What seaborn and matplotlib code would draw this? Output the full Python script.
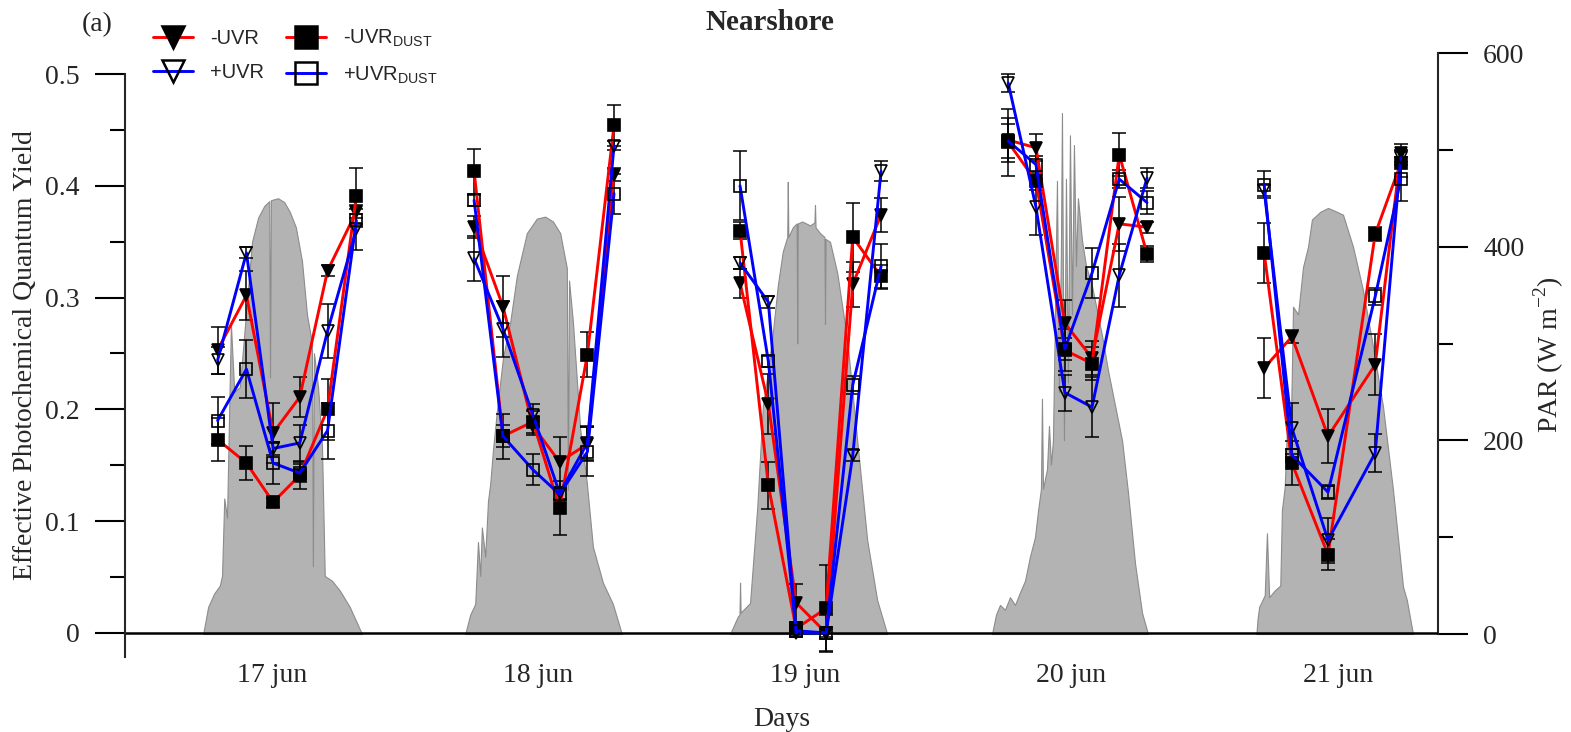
import matplotlib
matplotlib.use("Agg")
import matplotlib.pyplot as plt
from matplotlib.lines import Line2D
from matplotlib.ticker import MultipleLocator
import seaborn as sns
import numpy as np
import pandas as pd

#%% Data
day_ticks = [17.5, 18.5, 19.5, 20.5, 21.5]
day_labels = ["17 jun", "18 jun", "19 jun", "20 jun", "21 jun"]

# sampling day and hour of each measurement
sample_day = [17] * 6 + [18] * 6 + [19] * 6 + [20] * 6 + [21] * 5
sample_hour = [7.1, 9.7, 12.1, 14.5, 17.0, 19.6,
               6.2, 8.8, 11.5, 13.9, 16.4, 18.8,
               6.15, 8.7, 11.2, 13.9, 16.3, 18.85,
               6.3, 8.8, 11.4, 13.85, 16.3, 18.8,
               5.35, 7.85, 11.1, 15.35, 17.65]

# Effective photochemical quantum yield (mean and error)
minus_uvr = [0.253, 0.302, 0.179, 0.211, 0.324, 0.377,
             0.363, 0.292, 0.185, 0.153, 0.169, 0.410,
             0.313, 0.205, 0.027, 0.000, 0.312, 0.374,
             0.441, 0.434, 0.277, 0.246, 0.366, 0.363,
             0.237, 0.265, 0.176, 0.240, 0.429]
minus_uvr_err = [0.021, 0.022, 0.027, 0.018, 0.005, 0.006,
                 0.010, 0.027, 0.008, 0.022, 0.015, 0.006,
                 0.013, 0.027, 0.017, 0.005, 0.020, 0.015,
                 0.020, 0.012, 0.021, 0.015, 0.024, 0.005,
                 0.027, 0.006, 0.024, 0.027, 0.008]
plus_uvr = [0.244, 0.340, 0.165, 0.170, 0.270, 0.361,
            0.335, 0.272, 0.195, 0.125, 0.170, 0.436,
            0.331, 0.296, 0.000, 0.000, 0.159, 0.413,
            0.492, 0.381, 0.215, 0.202, 0.320, 0.407,
            0.396, 0.183, 0.083, 0.161, 0.425]
plus_uvr_err = [0.012, 0.005, 0.006, 0.016, 0.024, 0.018,
                0.020, 0.025, 0.010, 0.005, 0.015, 0.004,
                0.005, 0.005, 0.004, 0.004, 0.005, 0.009,
                0.008, 0.025, 0.016, 0.027, 0.028, 0.009,
                0.005, 0.023, 0.020, 0.017, 0.006]
minus_dust = [0.173, 0.152, 0.117, 0.141, 0.200, 0.391,
              0.413, 0.176, 0.189, 0.112, 0.249, 0.454,
              0.360, 0.132, 0.004, 0.022, 0.354, 0.319,
              0.439, 0.404, 0.253, 0.241, 0.428, 0.339,
              0.340, 0.152, 0.070, 0.357, 0.420]
minus_dust_err = [0.019, 0.015, 0.004, 0.012, 0.027, 0.025,
                  0.020, 0.020, 0.010, 0.024, 0.020, 0.018,
                  0.008, 0.021, 0.005, 0.039, 0.031, 0.010,
                  0.030, 0.008, 0.019, 0.015, 0.019, 0.007,
                  0.027, 0.020, 0.014, 0.006, 0.012]
plus_dust = [0.190, 0.236, 0.152, 0.143, 0.181, 0.369,
             0.387, 0.176, 0.146, 0.124, 0.162, 0.393,
             0.400, 0.243, 0.002, 0.000, 0.222, 0.328,
             0.440, 0.419, 0.254, 0.322, 0.406, 0.385,
             0.401, 0.159, 0.126, 0.301, 0.406]
plus_dust_err = [0.021, 0.026, 0.019, 0.008, 0.025, 0.006,
                 0.005, 0.010, 0.014, 0.005, 0.022, 0.018,
                 0.031, 0.005, 0.005, 0.016, 0.008, 0.020,
                 0.015, 0.008, 0.010, 0.022, 0.008, 0.010,
                 0.012, 0.006, 0.006, 0.008, 0.020]

# PAR (W m-2) per day, hour of day vs value
par_hour_17 = [5.8, 6.25, 6.8, 7.3, 7.5, 7.7, 7.95, 8.3, 8.6, 9.1, 9.65, 10.2, 10.75, 11.3, 11.75,
               11.82, 11.9, 12.55, 13.1, 13.6, 14.15, 14.7, 15.15, 15.6, 15.68, 15.78, 16.15,
               16.5, 16.75, 17.4, 18.1, 19.0, 19.55, 20.1]
par_w_17 = [0, 28, 42, 50, 60, 140, 120, 320, 250, 255, 330, 405, 430, 442, 447,
            265, 448, 450, 446, 436, 420, 385, 330, 300, 70, 290, 255,
            195, 60, 55, 45, 28, 14, 0]
par_hour_18 = [5.4, 5.85, 6.3, 6.55, 6.75, 6.9, 7.2, 7.45, 7.65, 7.9, 8.25, 8.8, 9.45, 10.05,
               10.95, 11.85, 12.6, 13.3, 13.95, 14.55, 14.65, 14.75, 15.1, 15.75, 16.35, 16.9,
               17.8, 18.7, 19.5]
par_w_18 = [0, 20, 31, 95, 60, 110, 80, 137, 155, 190, 230, 285, 322, 370,
            414, 429, 431, 426, 414, 378, 149, 365, 322, 212, 156, 90,
            53, 31, 0]
par_hour_19 = [5.25, 5.95, 6.1, 6.15, 6.2, 7.05, 7.7, 8.2, 8.65, 9.1, 9.55, 10.0, 10.4,
               10.45, 10.5, 10.9, 11.25, 11.3, 11.35, 11.75, 12.45, 12.85, 12.9, 12.95,
               13.35, 13.75, 13.8, 13.85, 14.25, 14.9, 15.8, 16.7, 17.6, 18.5, 19.4]
par_w_19 = [0, 18, 20, 53, 22, 32, 131, 235, 270, 311, 360, 395, 410,
            467, 410, 420, 424, 300, 424, 426, 422, 425, 443, 420,
            414, 410, 320, 408, 405, 373, 304, 200, 97, 35, 0]
par_hour_20 = [4.84, 5.2, 5.56, 6.01, 6.46, 6.91, 7.36, 7.81, 8.26, 8.71, 8.98, 9.25, 9.34,
               9.43, 9.79, 9.97, 10.15, 10.33, 10.51, 10.69, 10.87, 11.05, 11.14, 11.32,
               11.5, 11.68, 11.86, 12.04, 12.22, 12.4, 12.58, 12.95, 13.31, 13.85, 14.75,
               15.29, 15.92, 16.55, 17.09, 17.72, 18.35, 18.89]
par_w_20 = [0, 20, 30, 25, 38, 30, 43, 55, 80, 100, 127, 150, 243,
            150, 170, 215, 175, 200, 330, 468, 250, 400, 538, 200,
            470, 260, 515, 330, 505, 380, 450, 406, 380, 359, 308,
            272, 236, 200, 146, 73, 22, 0]
par_hour_21 = [4.65, 4.75, 4.9, 5.4, 5.6, 5.8, 6.3, 6.8, 6.95, 7.2, 7.4, 7.7, 7.95, 8.4,
               8.85, 9.3, 9.65, 10.4, 11.1, 11.9, 12.45, 13.35, 14.25, 15.15, 16.05, 16.95,
               17.85, 18.2, 18.75]
par_w_21 = [0, 15, 28, 40, 104, 38, 45, 50, 128, 152, 211, 180, 338, 330,
            379, 400, 428, 436, 440, 436, 433, 400, 355, 297, 235, 149,
            49, 35, 0]

#%% Style
sns.set_style("ticks")
plt.rcParams["font.family"] = ["Liberation Serif", "DejaVu Serif"]
plt.rcParams["axes.linewidth"] = 1.5

W, H = 1571, 732
fig = plt.figure(figsize=(W / 100, H / 100), dpi=100)
ax = fig.add_axes([125 / W, 1 - 657 / H, (1438 - 125) / W, (657 - 53) / H])
ax2 = ax.twinx()

# PAR in the background
par_days = {17: (par_hour_17, par_w_17), 18: (par_hour_18, par_w_18),
            19: (par_hour_19, par_w_19), 20: (par_hour_20, par_w_20),
            21: (par_hour_21, par_w_21)}
for day, (hrs, w) in par_days.items():
    x = day + np.array(hrs) / 24
    ax2.fill_between(x, 0, w, facecolor="#b3b3b3", edgecolor="#8c8c8c", lw=0.8)

ax.set_zorder(ax2.get_zorder() + 1)
ax.patch.set_visible(False)

obs = pd.DataFrame({"day": sample_day, "hour": sample_hour})
obs["x"] = obs["day"] + obs["hour"] / 24

series = [
    ("-UVR", minus_uvr, minus_uvr_err, "red", "v", "black"),
    ("-UVR$_{\\mathregular{DUST}}$", minus_dust, minus_dust_err, "red", "s", "black"),
    ("+UVR", plus_uvr, plus_uvr_err, "blue", "v", "none"),
    ("+UVR$_{\\mathregular{DUST}}$", plus_dust, plus_dust_err, "blue", "s", "none"),
]

ax.axhline(0, color="black", lw=1.8, zorder=1)

for name, vals, errs, color, marker, face in series:
    ax.errorbar(obs["x"], vals, yerr=errs, fmt="none", ecolor="black",
                elinewidth=1.1, capsize=5, capthick=1.1, zorder=2)

for name, vals, errs, color, marker, face in series:
    d = obs.assign(y=vals)
    sns.lineplot(data=d, x="x", y="y", units="day", estimator=None, ax=ax,
                 color=color, lw=2.1, marker=marker, markersize=8,
                 markerfacecolor=face, mec="black", mew=1.2,
                 legend=False, zorder=3)

# Axes limits
ax.set_xlim(16.9484, 21.8752)
ax.set_ylim(-0.0215, 0.5188)
ax2.set_ylim(-23.75, 600)

for s in ["top", "right", "bottom"]:
    ax.spines[s].set_visible(False)
for s in ["top", "left", "bottom"]:
    ax2.spines[s].set_visible(False)
ax.spines["left"].set_bounds(-0.0215, 0.5)
ax.spines["left"].set_linewidth(1.5)
ax2.spines["right"].set_bounds(0, 600)
ax2.spines["right"].set_linewidth(1.5)

yt = [0, 0.1, 0.2, 0.3, 0.4, 0.5]
ax.set_yticks(yt, ["0", "0.1", "0.2", "0.3", "0.4", "0.5"])
ax.yaxis.set_minor_locator(MultipleLocator(0.05))
ax.tick_params(axis="y", which="major", length=21.5, width=1.5, pad=11, labelsize=20,
               direction="out", color="black")
ax.tick_params(axis="y", which="minor", length=11, width=1.5, direction="out", color="black")

ax2.set_yticks([0, 200, 400, 600])
ax2.yaxis.set_minor_locator(MultipleLocator(100))
ax2.tick_params(axis="y", which="major", length=21.5, width=1.5, pad=11, labelsize=20,
                direction="out", color="black")
ax2.tick_params(axis="y", which="minor", length=11, width=1.5, direction="out", color="black")

ax.set_xticks(day_ticks, day_labels)
ax.tick_params(axis="x", length=0, pad=4, labelsize=20)

ax.set_xlabel("Days", fontsize=20, labelpad=14)
ax.set_ylabel("Effective Photochemical Quantum Yield", fontsize=20, labelpad=5)
ax2.set_ylabel("PAR (W m$^{\\mathregular{-2}}$)", fontsize=20, labelpad=5)

fig.text(770 / W, 1 - 22 / H, "Nearshore", ha="center", va="center",
         fontsize=21, fontweight="bold")
fig.text(97 / W, 1 - 25 / H, "(a)", ha="center", va="center", fontsize=20)

# Legend
handles = []
labels = []
for name, vals, errs, color, marker, face in [series[0], series[2], series[1], series[3]]:
    handles.append(Line2D([], [], color=color, lw=2.1, marker=marker, markersize=16,
                          markerfacecolor=face, markeredgecolor="black", markeredgewidth=1.8))
    labels.append(name)
fig.legend(handles, labels, ncol=2, loc="upper left",
           bbox_to_anchor=(153 / W, 1 - 28 / H), frameon=False,
           prop={"family": "Liberation Sans", "size": 14.5},
           handlelength=2.0, handletextpad=0.85, columnspacing=1.05,
           labelspacing=0.75, borderpad=0, borderaxespad=0)

fig.savefig("out.png", dpi=100)
